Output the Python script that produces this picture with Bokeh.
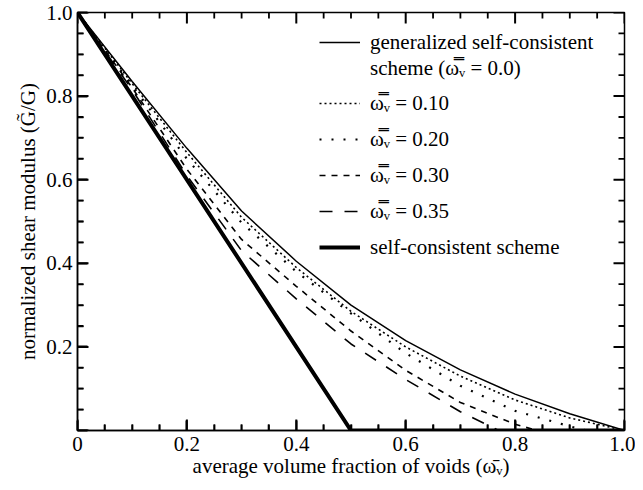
from bokeh.plotting import figure
from bokeh.models import FixedTicker, Legend, LegendItem, Range1d
from bokeh.embed import file_html
from bokeh.resources import INLINE

# ---- data ----
x_gsc = [0.0, 0.1, 0.2, 0.3, 0.4, 0.5, 0.6, 0.7, 0.8, 0.9, 1.0]
y_gsc = [1.0, 0.835, 0.675, 0.525, 0.405, 0.30, 0.215, 0.145, 0.087, 0.04, 0.0]

x_w10 = [0.0, 0.1, 0.2, 0.3, 0.4, 0.5, 0.6, 0.7, 0.8, 0.9, 1.0]
y_w10 = [1.0, 0.83, 0.665, 0.51, 0.39, 0.285, 0.20, 0.13, 0.073, 0.03, 0.0]

x_w20 = [0.0, 0.1, 0.2, 0.3, 0.4, 0.5, 0.6, 0.7, 0.8, 0.9, 0.93]
y_w20 = [1.0, 0.825, 0.65, 0.497, 0.38, 0.28, 0.185, 0.107, 0.047, 0.01, 0.0]

x_w30 = [0.0, 0.1, 0.2, 0.3, 0.4, 0.5, 0.6, 0.7, 0.8, 0.84]
y_w30 = [1.0, 0.82, 0.625, 0.457, 0.345, 0.238, 0.144, 0.067, 0.015, 0.0]

x_w35 = [0.0, 0.1, 0.2, 0.3, 0.4, 0.5, 0.6, 0.7, 0.77]
y_w35 = [1.0, 0.815, 0.61, 0.43, 0.315, 0.207, 0.122, 0.045, 0.0]

x_sc = [0.0, 0.5, 1.0]
y_sc = [1.0, 0.0, 0.0]

x_major = [0.0, 0.2, 0.4, 0.6, 0.8, 1.0]
x_minor = [0.05, 0.1, 0.15, 0.25, 0.3, 0.35, 0.45, 0.5, 0.55, 0.65, 0.7, 0.75, 0.85, 0.9, 0.95]
x_tick_labels = ["0", "0.2", "0.4", "0.6", "0.8", "1.0"]
y_major = [0.0, 0.2, 0.4, 0.6, 0.8, 1.0]
y_minor = [0.05, 0.1, 0.15, 0.25, 0.3, 0.35, 0.45, 0.5, 0.55, 0.65, 0.7, 0.75, 0.85, 0.9, 0.95]
y_tick_labels = ["", "0.2", "0.4", "0.6", "0.8", "1.0"]

legend_labels = ["generalized self-consistent",
                 "scheme (\u03c9\u033f\u1d65 = 0.0)",
                 "\u03c9\u033f\u1d65 = 0.10",
                 "\u03c9\u033f\u1d65 = 0.20",
                 "\u03c9\u033f\u1d65 = 0.30",
                 "\u03c9\u033f\u1d65 = 0.35",
                 "self-consistent scheme"]
x_title = "average volume fraction of voids (\u03c9\u0304\u1d65)"
y_title = "normalized shear modulus (G\u0303/G)"

FONT = "Liberation Serif"

W, H = 635, 482
BL, BR, BT, BB = 77, 11, 12, 52
FW, FH = W - BL - BR, H - BT - BB

xr = Range1d(0, 1)
yr = Range1d(0, 1)
p = figure(width=W, height=H, x_range=xr, y_range=yr,
           output_backend="svg", toolbar_location=None,
           min_border_left=BL, min_border_right=BR, min_border_top=BT,
           min_border_bottom=BB)
p.grid.visible = False
p.outline_line_color = "black"
p.outline_line_width = 1.5
p.background_fill_color = "white"
p.border_fill_color = "white"


def style_axis(ax, ticks, minor, labels):
    ax.ticker = FixedTicker(ticks=ticks, minor_ticks=minor)
    ax.major_tick_in = 10
    ax.major_tick_out = 0
    ax.minor_tick_in = 6
    ax.minor_tick_out = 0
    ax.major_tick_line_color = "black"
    ax.major_tick_line_width = 2
    ax.minor_tick_line_color = "black"
    ax.minor_tick_line_width = 1.6
    ax.axis_line_color = "black"
    ax.axis_line_width = 1.5
    ax.major_label_text_font = FONT
    ax.major_label_text_color = "black"
    ax.major_label_text_font_size = "21px"
    ax.major_label_overrides = {t: l for t, l in zip(ticks, labels)}
    ax.axis_label_text_font = FONT
    ax.axis_label_text_font_size = "21px"
    ax.axis_label_text_font_style = "normal"
    ax.axis_label_text_color = "black"


xa = p.xaxis[0]
ya = p.yaxis[0]
style_axis(xa, x_major, x_minor, x_tick_labels)
style_axis(ya, y_major, y_minor, y_tick_labels)
xa.major_label_standoff = 6
ya.major_label_standoff = 5
xa.axis_label = x_title
ya.axis_label = y_title
xa.axis_label_standoff = 0
ya.axis_label_standoff = 3

# inward ticks on all four sides: segments whose length is a fixed number of
# pixels converted to data units of the frame
for xs_, ln, lw in ((x_major, 11, 2.0), (x_minor, 6, 1.8)):
    dy = ln / FH
    n = len(xs_)
    p.segment(xs_, [yr.start] * n, xs_, [yr.start + dy] * n, line_color="black", line_width=lw)
    p.segment(xs_, [yr.end] * n, xs_, [yr.end - dy] * n, line_color="black", line_width=lw)
for ys_, ln, lw in ((y_major, 11, 2.0), (y_minor, 6, 1.8)):
    dx = ln / FW
    n = len(ys_)
    p.segment([xr.start] * n, ys_, [xr.start + dx] * n, ys_, line_color="black", line_width=lw)
    p.segment([xr.end] * n, ys_, [xr.end - dx] * n, ys_, line_color="black", line_width=lw)

r_gsc = p.line(x_gsc, y_gsc, line_color="black", line_width=1.5)
r_w10 = p.line(x_w10, y_w10, line_color="black", line_width=1.6, line_dash="2 3")
r_w20 = p.line(x_w20, y_w20, line_color="black", line_width=2.2, line_dash="2 10")
r_w30 = p.line(x_w30, y_w30, line_color="black", line_width=1.6, line_dash="6 6")
r_w35 = p.line(x_w35, y_w35, line_color="black", line_width=1.6, line_dash="13 12")
r_sc = p.line(x_sc, y_sc, line_color="black", line_width=4.0)
r_inv = p.line(x_gsc[:2], y_gsc[:2], line_alpha=0)


def make_legend(items, loc, spacing):
    lg = Legend(items=items, location=loc)
    lg.background_fill_alpha = 0
    lg.border_line_alpha = 0
    lg.padding = 0
    lg.margin = 0
    lg.spacing = spacing
    lg.glyph_width = 41
    lg.glyph_height = 26
    lg.label_height = 26
    lg.label_standoff = 10
    lg.label_text_font = FONT
    lg.label_text_font_size = "21px"
    lg.label_text_color = "black"
    return lg


legA = make_legend([LegendItem(label=legend_labels[0], renderers=[r_gsc]),
                    LegendItem(label=legend_labels[1], renderers=[r_inv])],
                   (242, 349), 0)
legB = make_legend([LegendItem(label=legend_labels[2], renderers=[r_w10]),
                    LegendItem(label=legend_labels[3], renderers=[r_w20]),
                    LegendItem(label=legend_labels[4], renderers=[r_w30]),
                    LegendItem(label=legend_labels[5], renderers=[r_w35]),
                    LegendItem(label=legend_labels[6], renderers=[r_sc])],
                   (242, 170), 10)
p.add_layout(legA)
p.add_layout(legB)

open("out.html", "w").write(file_html(p, INLINE))
